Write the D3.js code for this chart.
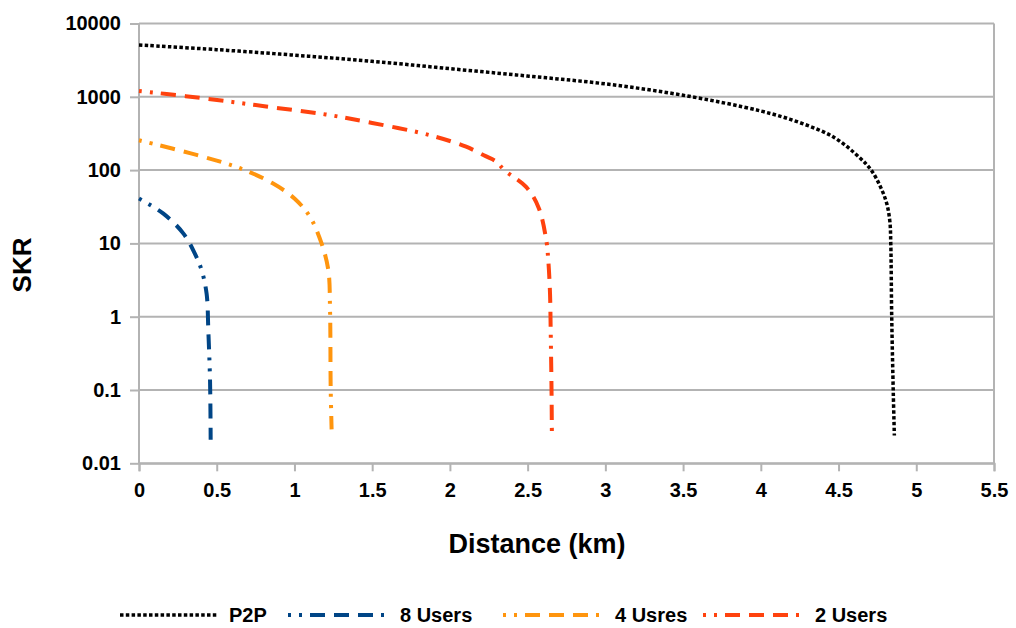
<!DOCTYPE html>
<html>
<head>
<meta charset="utf-8">
<script src="https://cdn.jsdelivr.net/npm/d3@7"></script>
<style>
body { margin: 0; background: #fff; }
text { font-family: "Liberation Sans", Arial, sans-serif; font-weight: bold; fill: #000; }
</style>
</head>
<body>
<div class="chart"></div>
<script>
// distance (km) / SKR pairs
var p2pDist = [0, 0.5, 1, 1.5, 2, 2.5, 3, 3.5, 4, 4.25, 4.47, 4.64, 4.71, 4.77, 4.81, 4.83, 4.836, 4.842, 4.852, 4.859];
var p2pSkr  = [5100, 4400, 3700, 3050, 2420, 1920, 1500, 1050, 640, 445, 280, 145, 100, 59, 35, 20, 10, 1, 0.094, 0.024];

var u8Dist = [0, 0.157, 0.286, 0.36, 0.403, 0.435, 0.446, 0.457, 0.461];
var u8Skr  = [41, 25.5, 13.6, 7.2, 4.3, 2.05, 0.64, 0.133, 0.021];

var u4Dist = [0, 0.37, 0.65, 0.86, 1.0, 1.1, 1.175, 1.218, 1.229, 1.233, 1.239];
var u4Skr  = [255, 161, 106, 66, 41, 23, 9.9, 4.3, 1.2, 0.108, 0.029];

var u2Dist = [0, 0.3, 0.6, 0.9, 1.2, 1.5, 1.87, 2.1, 2.23, 2.3, 2.35, 2.49, 2.57, 2.62, 2.633, 2.644, 2.648, 2.654, 2.656];
var u2Skr  = [1200, 1020, 850, 700, 575, 440, 300, 210, 155, 130, 100, 59, 31, 11, 5.8, 2.07, 0.71, 0.088, 0.023];

var xTicks = [0, 0.5, 1, 1.5, 2, 2.5, 3, 3.5, 4, 4.5, 5, 5.5];
var yTicks = [0.01, 0.1, 1, 10, 100, 1000, 10000];
var seriesNames = ["P2P", "8 Users", "4 Usres", "2 Users"];

var W = 1016, H = 628;
var plot = {left: 139, right: 994, top: 23.5, bottom: 463.3};

var svg = d3.select(".chart").append("svg")
	.attr("width", W).attr("height", H);

var x = d3.scaleLinear().domain([0, 5.5]).range([plot.left, plot.right]);
var y = d3.scaleLog().domain([0.01, 10000]).range([plot.bottom, plot.top]);

// horizontal grid
svg.append("g").selectAll("line").data(yTicks).enter().append("line")
	.attr("x1", plot.left).attr("x2", plot.right)
	.attr("y1", d => y(d)).attr("y2", d => y(d))
	.attr("stroke", "#b3b3b3").attr("stroke-width", 2);

// right border
svg.append("line")
	.attr("x1", plot.right).attr("x2", plot.right)
	.attr("y1", plot.top).attr("y2", plot.bottom)
	.attr("stroke", "#b3b3b3").attr("stroke-width", 2);

var xAxis = d3.axisBottom(x).tickValues(xTicks).tickSize(8).tickPadding(12)
	.tickFormat(d3.format("~g"));
var gx = svg.append("g")
	.attr("transform", "translate(0," + plot.bottom + ")")
	.call(xAxis);

var yAxis = d3.axisLeft(y).tickValues(yTicks).tickSize(9).tickPadding(9)
	.tickFormat(d => d < 1 ? String(d) : d3.format("d")(d));
var gy = svg.append("g")
	.attr("transform", "translate(" + plot.left + ",0)")
	.call(yAxis);

[gx, gy].forEach(function(g) {
	g.select(".domain").attr("stroke", "#b3b3b3").attr("stroke-width", 2);
	g.selectAll(".tick line").attr("stroke", "#b3b3b3").attr("stroke-width", 2);
	g.selectAll("text").style("font-size", "20px").attr("fill", "#000")
		.style("font-family", '"Liberation Sans", Arial, sans-serif').style("font-weight", "bold");
});
gy.select(".domain").attr("d", "M0," + plot.bottom + "V" + plot.top);

svg.append("text")
	.attr("x", 537).attr("y", 553)
	.attr("text-anchor", "middle")
	.style("font-size", "27px")
	.text("Distance (km)");

svg.append("text")
	.attr("transform", "translate(31,265) rotate(-90)")
	.attr("text-anchor", "middle")
	.style("font-size", "26px")
	.text("SKR");

var dotDash = "3,8,3,8,15,9,15,9,15,8";
var series = [
	{name: seriesNames[0], xs: p2pDist, ys: p2pSkr, color: "#000000", width: 3.5, dash: "3.5,2.3"},
	{name: seriesNames[1], xs: u8Dist, ys: u8Skr, color: "#004586", width: 4, dash: dotDash},
	{name: seriesNames[2], xs: u4Dist, ys: u4Skr, color: "#ff950e", width: 4, dash: dotDash},
	{name: seriesNames[3], xs: u2Dist, ys: u2Skr, color: "#ff420e", width: 4, dash: dotDash}
];

var line = d3.line()
	.x(d => x(d[0]))
	.y(d => y(d[1]))
	.curve(d3.curveCatmullRom.alpha(0.5));

svg.append("g").selectAll("path").data(series).enter().append("path")
	.attr("d", s => line(s.xs.map((v, i) => [v, s.ys[i]])))
	.attr("fill", "none")
	.attr("stroke", s => s.color)
	.attr("stroke-width", s => s.width)
	.attr("stroke-dasharray", s => s.dash);

// legend
var legendX = [120, 288, 503, 703];
var lg = svg.append("g").selectAll("g").data(series).enter().append("g")
	.attr("transform", (s, i) => "translate(" + legendX[i] + ",615)");
lg.append("line")
	.attr("x1", 0).attr("x2", 97).attr("y1", 0).attr("y2", 0)
	.attr("stroke", s => s.color)
	.attr("stroke-width", s => s.width)
	.attr("stroke-dasharray", s => s.dash);
lg.append("text")
	.attr("x", (s, i) => i == 0 ? 109 : 112)
	.attr("y", 7)
	.style("font-size", "20px")
	.text(s => s.name);
</script>
</body>
</html>
